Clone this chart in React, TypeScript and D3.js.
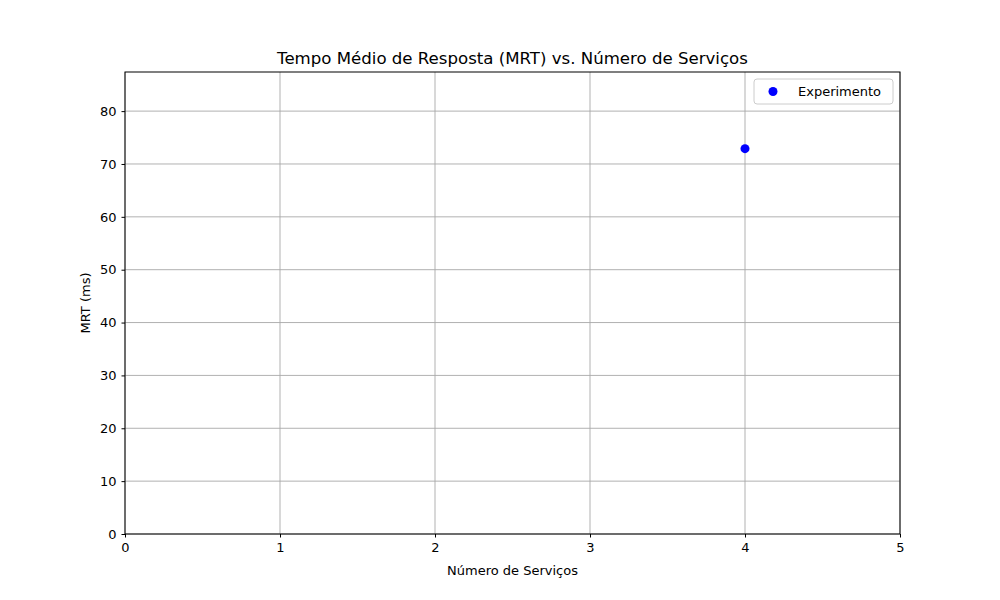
import React, { useRef, useEffect } from 'react';
import * as d3 from 'd3';

const seriesName = 'Experimento';
const services = [4];
const mrt = [72.9];
const xTicks = [0, 1, 2, 3, 4, 5];
const yTicks = [0, 10, 20, 30, 40, 50, 60, 70, 80];

const App: React.FC = () => {
  const svgRef = useRef<SVGSVGElement>(null);

  useEffect(() => {
    if (!svgRef.current) return;
    const svg = d3.select(svgRef.current);
    svg.selectAll('*').remove();

    const margin = { top: 72, right: 100, bottom: 66, left: 125 };
    const width = 1000, height = 600;
    const iw = width - margin.left - margin.right;
    const ih = height - margin.top - margin.bottom;

    const x = d3.scaleLinear().domain([0, 5]).range([0, iw]);
    const y = d3.scaleLinear().domain([0, 87.4]).range([ih, 0]);

    const g = svg.append('g').attr('transform', `translate(${margin.left},${margin.top})`);
    const font = 'DejaVu Sans, sans-serif';

    // grid
    g.selectAll('.gx').data(xTicks).enter().append('line')
      .attr('x1', d => x(d)).attr('x2', d => x(d)).attr('y1', 0).attr('y2', ih)
      .attr('stroke', '#a8a8a8').attr('stroke-width', 0.9);
    g.selectAll('.gy').data(yTicks).enter().append('line')
      .attr('y1', d => y(d)).attr('y2', d => y(d)).attr('x1', 0).attr('x2', iw)
      .attr('stroke', '#a8a8a8').attr('stroke-width', 0.9);

    const xAxis = g.append('g').attr('transform', `translate(0,${ih})`)
      .call(d3.axisBottom(x).tickValues(xTicks).tickSize(3.5).tickPadding(5).tickFormat(d3.format('d')));
    const yAxis = g.append('g')
      .call(d3.axisLeft(y).tickValues(yTicks).tickSize(3.5).tickPadding(5).tickFormat(d3.format('d')));
    [xAxis, yAxis].forEach(a => {
      a.select('.domain').remove();
      a.selectAll('text').style('font-family', font).style('font-size', '13px').attr('fill', '#000');
      a.selectAll('line').attr('stroke', '#000');
    });

    g.append('rect').attr('width', iw).attr('height', ih)
      .attr('fill', 'none').attr('stroke', '#000').attr('stroke-width', 1);

    g.selectAll('.pt').data(services).enter().append('circle')
      .attr('cx', d => x(d)).attr('cy', (_, i) => y(mrt[i])).attr('r', 4.5).attr('fill', 'blue');

    // legend
    const lg = g.append('g').attr('transform', `translate(${iw - 146},7)`);
    lg.append('rect').attr('width', 139).attr('height', 25).attr('rx', 3)
      .attr('fill', '#fff').attr('stroke', '#ccc');
    lg.append('circle').attr('cx', 19).attr('cy', 12.5).attr('r', 4.5).attr('fill', 'blue');
    lg.append('text').attr('x', 44).attr('y', 17).text(seriesName)
      .style('font-family', font).style('font-size', '13px');

    svg.append('text').attr('x', margin.left + iw / 2).attr('y', 64).attr('text-anchor', 'middle')
      .style('font-family', font).style('font-size', '16.6px').text('Tempo Médio de Resposta (MRT) vs. Número de Serviços');
    svg.append('text').attr('x', margin.left + iw / 2).attr('y', 575).attr('text-anchor', 'middle')
      .style('font-family', font).style('font-size', '13px').text('Número de Serviços');
    svg.append('text').attr('transform', `translate(90,${margin.top + ih / 2}) rotate(-90)`)
      .attr('text-anchor', 'middle')
      .style('font-family', font).style('font-size', '13px').text('MRT (ms)');
  }, []);

  return (
    <div style={{ position: 'fixed', left: 0, top: 0 }}>
      <svg ref={svgRef} width={1000} height={600} style={{ background: '#fff' }} />
    </div>
  );
};

export default App;
